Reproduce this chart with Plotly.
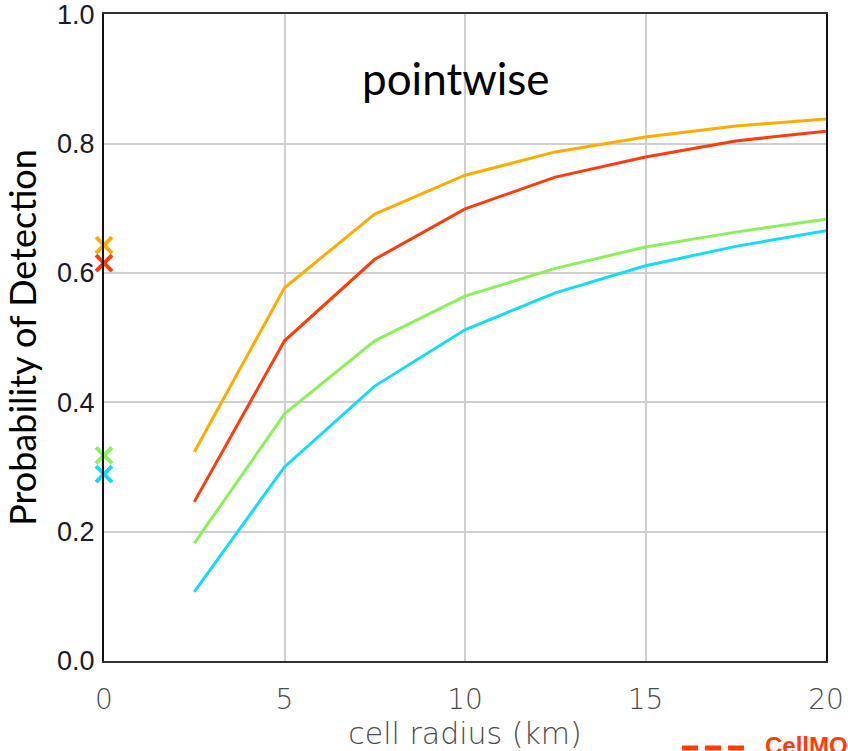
import plotly.graph_objects as go

radius_km = [2.5, 5, 7.5, 10, 12.5, 15, 17.5, 20]
pd_orange = [0.323, 0.577, 0.691, 0.751, 0.787, 0.810, 0.827, 0.838]
pd_red = [0.246, 0.495, 0.621, 0.699, 0.748, 0.779, 0.804, 0.819]
pd_green = [0.182, 0.382, 0.495, 0.564, 0.607, 0.640, 0.663, 0.683]
pd_cyan = [0.107, 0.300, 0.425, 0.512, 0.569, 0.611, 0.641, 0.665]

marker_x = [0, 0, 0, 0]
marker_y = [0.643, 0.615, 0.318, 0.289]

x_ticks = [0, 5, 10, 15, 20]
y_ticks = [0.0, 0.2, 0.4, 0.6, 0.8, 1.0]
y_ticklabels = ["0.0", "0.2", "0.4", "0.6", "0.8", "1.0"]

colors = ["#FFAC00", "#FF3C0C", "#8CF05C", "#14DCF8"]
series = [pd_orange, pd_red, pd_green, pd_cyan]

fig = go.Figure()
for vals, c in zip(series, colors):
    fig.add_trace(go.Scatter(x=radius_km, y=vals, mode="lines",
                             line=dict(color=c, width=3), showlegend=False,
                             hoverinfo="skip"))

for xv, yv, c in zip(marker_x, marker_y, colors):
    fig.add_trace(go.Scatter(x=[xv], y=[yv], mode="markers", cliponaxis=False,
                             marker=dict(symbol="x-thin", size=16,
                                         line=dict(color=c, width=4)),
                             showlegend=False, hoverinfo="skip"))

gothic = "'DejaVu Sans', Lato, sans-serif"

fig.update_layout(
    width=848, height=751,
    margin=dict(l=104, r=22, t=14, b=90),
    paper_bgcolor="white", plot_bgcolor="white",
    xaxis=dict(range=[0, 20], tickvals=x_ticks, showgrid=True, automargin=False,
               gridcolor="#CFCFCF", gridwidth=1.5, zeroline=False,
               showline=True, linecolor="#333333", linewidth=2, mirror=True,
               ticks="", ticklabelstandoff=12, ticklabeloverflow="allow",
               tickfont=dict(family=gothic, size=28, color="#4A4A4A", weight=200),
               title=dict(text="cell radius (km)", standoff=6,
                          font=dict(family=gothic, size=30, color="#4A4A4A", weight=200))),
    yaxis=dict(range=[0, 1.0002], tickvals=y_ticks, ticktext=y_ticklabels,
               showgrid=True, gridcolor="#CFCFCF", gridwidth=1.5, zeroline=False,
               showline=True, linecolor="#111111", linewidth=2, mirror=True,
               ticks="", ticklabelstandoff=2, automargin=False, ticklabeloverflow="allow",
               tickfont=dict(family="Arial, 'Liberation Sans', sans-serif", size=27, color="#1A1A2A"),
               title=dict(text="Probability of Detection", standoff=14,
                          font=dict(family="Lato, 'Open Sans', sans-serif", size=36, color="#000000"))),
    annotations=[
        dict(text="pointwise", xref="paper", yref="paper", x=0.488, y=0.901,
             xanchor="center", yanchor="middle", showarrow=False,
             font=dict(family="Lato, 'Open Sans', sans-serif", size=44, color="#000000")),
        dict(text="<b>CellMOS</b>", xref="paper", yref="paper", x=0.9127, y=-0.1066,
             xanchor="left", yanchor="top", showarrow=False,
             font=dict(family="Arial, 'Liberation Sans', sans-serif", size=24, color="#FF3C0C")),
    ],
    shapes=[
        dict(type="line", xref="paper", yref="paper", x0=0.8006, x1=0.8878,
             y0=-0.1345, y1=-0.1345, line=dict(color="#FF3C0C", width=5, dash="16px,7px")),
    ],
)

fig.write_html("out.html")
